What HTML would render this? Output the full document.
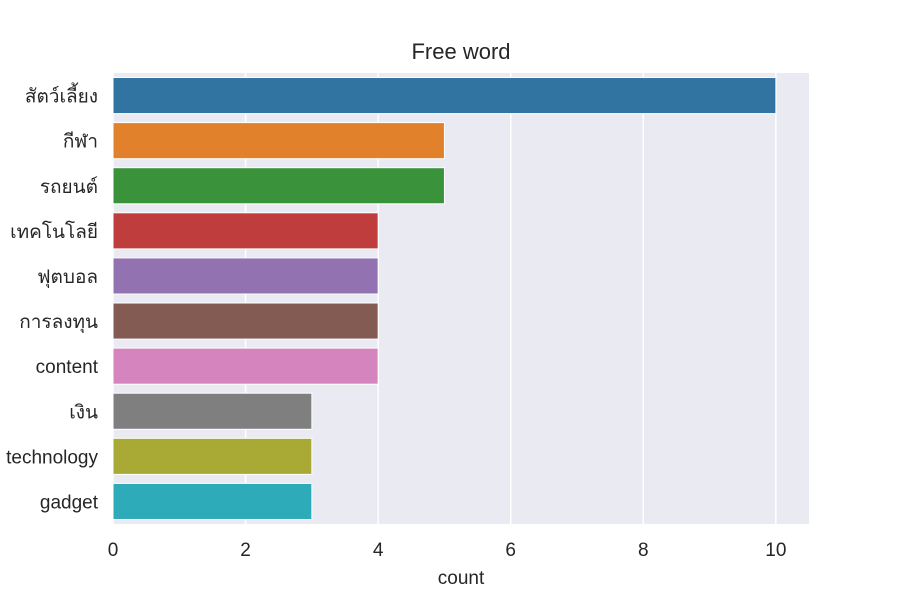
<!DOCTYPE html>
<html><head><meta charset="utf-8"><style>
body{margin:0;background:#fff;}
svg text{font-family:"Liberation Sans","DejaVu Sans",sans-serif;fill:#262626;}
</style></head><body>
<svg id="chart" width="900" height="600" xmlns="http://www.w3.org/2000/svg">
<rect x="113" y="73" width="696" height="451" fill="#eaeaf2"/>
<g id="grid"></g><g id="bars"></g><g id="ylabels"></g><g id="xticks"></g>
<text x="461" y="59" text-anchor="middle" font-size="22">Free word</text>
<text x="461" y="584" text-anchor="middle" font-size="19">count</text>
</svg>
<script>
const categories=["สัตว์เลี้ยง","กีฬา","รถยนต์","เทคโนโลยี","ฟุตบอล","การลงทุน","content","เงิน","technology","gadget"];
const counts=[10,5,5,4,4,4,4,3,3,3];
const xTicks=[0,2,4,6,8,10];
const colors=["#3274a1","#e1812c","#3a923a","#c03d3e","#9372b2","#845b53","#d684bd","#7f7f7f","#a9aa35","#2eabb8"];
const NS="http://www.w3.org/2000/svg";
const L=113,T=73,W=696,H=451,xmax=10.5;
const x=v=>L+v/xmax*W;
const band=H/categories.length;
const y=i=>T+i*band;
function mk(tag,attrs,parent){const e=document.createElementNS(NS,tag);for(const k in attrs)e.setAttribute(k,attrs[k]);document.getElementById(parent).appendChild(e);return e;}
xTicks.forEach(t=>{
  const g=mk('line',{x1:x(t),x2:x(t),y1:T,y2:T+H,stroke:'#fff','stroke-width':1.5},'grid');
  
  
  const tx=mk('text',{x:x(t),y:T+H+32,'text-anchor':'middle','font-size':19},'xticks');
  tx.textContent=t;
  
  
});
categories.forEach((c,i)=>{
  const r=mk('rect',{x:x(0),y:y(i)+band*0.1,width:x(counts[i])-x(0),height:band*0.8,fill:colors[i],stroke:'#fff','stroke-width':1},'bars');
  
  
  const tx=mk('text',{x:L-15,y:y(i)+band/2+7,'text-anchor':'end','font-size':19},'ylabels');
  tx.textContent=c;
  
  
});
</script>
</body></html>
